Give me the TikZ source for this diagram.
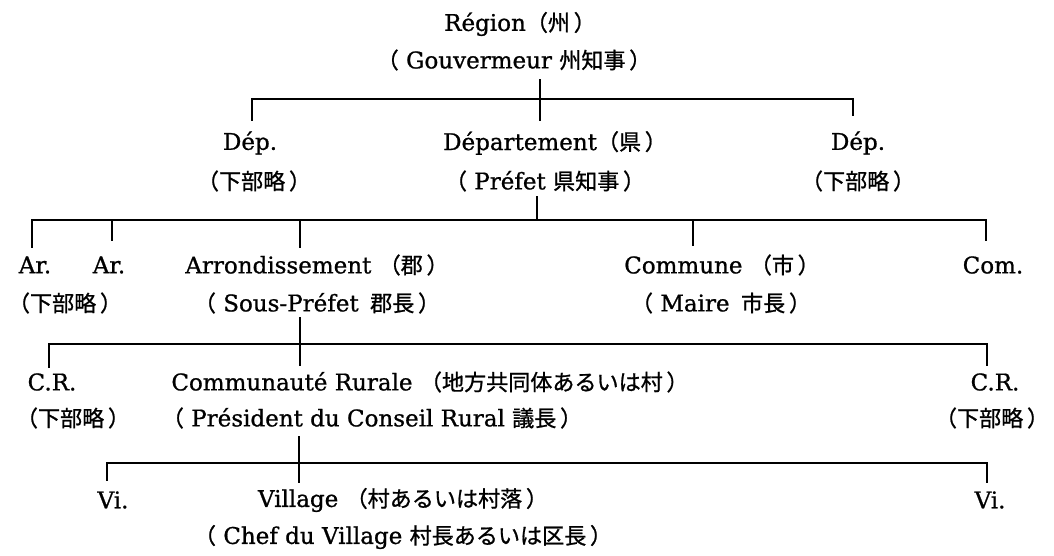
\documentclass[tikz,border=0pt]{standalone}
\usepackage{fontspec}
\setmainfont{DejaVu Serif}[FakeBold=0.9]
\newfontfamily\jp{Noto Sans CJK JP}[Scale=0.96,FakeBold=0.9]
\newcommand\J[1]{{\jp #1}}
\begin{document}
\begin{tikzpicture}[x=1pt,y=-1pt,
  lbl/.style={inner sep=0pt, font=\fontsize{23}{25}\selectfont},
  conn/.style={line width=1.7pt, line cap=rect}]
\useasboundingbox (0,0) rectangle (1054,556);
% level 0
\node[lbl] (reg) at (520,24) {Région\J{（州\,）}};
\node[lbl] (gov) at (514,60) {\J{（} Gouvermeur \J{州知事\,）}};
% level 1
\node[lbl] (depL) at (250,143) {Dép.};
\node[lbl] (depLs) at (254,181) {\J{（下部略\,）}};
\node[lbl] (dep) at (555,143) {Département\J{（県\,）}};
\node[lbl] (pref) at (545,181) {\J{（} Préfet \J{県知事\,）}};
\node[lbl] (depR) at (858,143) {Dép.};
\node[lbl] (depRs) at (858,181) {\J{（下部略\,）}};
% level 2
\node[lbl] (arA) at (35,265) {Ar.};
\node[lbl] (arB) at (109,265) {Ar.};
\node[lbl] (arAs) at (65,303) {\J{（下部略\,）}};
\node[lbl] (arr) at (317,265) {Arrondissement \J{（郡\,）}};
\node[lbl] (sp) at (317,303) {\J{（} Sous-Préfet\enspace\J{郡長\,）}};
\node[lbl] (com) at (722,265) {Commune \J{（市\,）}};
\node[lbl] (maire) at (721,303) {\J{（} Maire\enspace\J{市長\,）}};
\node[lbl] (comR) at (993,265) {Com.};
% level 3
\node[lbl] (crL) at (52,382) {C.R.};
\node[lbl] (crLs) at (73,418) {\J{（下部略\,）}};
\node[lbl] (cr) at (430,382) {Communauté Rurale \J{（地方共同体あるいは村\,）}};
\node[lbl] (pres) at (372,418) {\J{（} Président du Conseil Rural \J{議長\,）}};
\node[lbl] (crR) at (995,382) {C.R.};
\node[lbl] (crRs) at (992,418) {\J{（下部略\,）}};
% level 4
\node[lbl] (viL) at (113,500) {Vi.};
\node[lbl] (vil) at (403,500) {Village \J{（村あるいは村落\,）}};
\node[lbl] (viR) at (990,500) {Vi.};
\node[lbl] (chef) at (403,537) {\J{（} Chef du Village \J{村長あるいは区長\,）}};
% connector coordinates
\coordinate (g1) at (540,80);  \coordinate (g2) at (540,120);
\coordinate (b1a) at (252,99); \coordinate (b1b) at (853,99);
\coordinate (d1a) at (252,120); \coordinate (d1b) at (853,115);
\coordinate (p1) at (537,197); \coordinate (p2) at (537,220);
\coordinate (b2a) at (32,220); \coordinate (b2b) at (986,220);
\coordinate (d2a) at (32,247); \coordinate (d2b) at (112,240);
\coordinate (t2b) at (112,220); \coordinate (d2c) at (300,247);
\coordinate (t2c) at (300,220); \coordinate (d2d) at (693,245);
\coordinate (t2d) at (693,220); \coordinate (d2e) at (986,240);
\coordinate (s1) at (300,318); \coordinate (s2) at (300,365);
\coordinate (b3a) at (49,344); \coordinate (b3b) at (987,344);
\coordinate (d3a) at (49,367); \coordinate (d3b) at (987,365);
\coordinate (r1) at (299,437); \coordinate (r2) at (299,482);
\coordinate (b4a) at (107,463); \coordinate (b4b) at (987,463);
\coordinate (d4a) at (107,480); \coordinate (d4b) at (987,482);
% connectors
\draw[conn] (g1) -- (g2);
\draw[conn] (d1a) -- (b1a) -- (b1b) -- (d1b);
\draw[conn] (p1) -- (p2);
\draw[conn] (d2a) -- (b2a) -- (b2b) -- (d2e);
\draw[conn] (t2b) -- (d2b);
\draw[conn] (t2c) -- (d2c);
\draw[conn] (t2d) -- (d2d);
\draw[conn] (s1) -- (s2);
\draw[conn] (d3a) -- (b3a) -- (b3b) -- (d3b);
\draw[conn] (r1) -- (r2);
\draw[conn] (d4a) -- (b4a) -- (b4b) -- (d4b);
\end{tikzpicture}
\end{document}
